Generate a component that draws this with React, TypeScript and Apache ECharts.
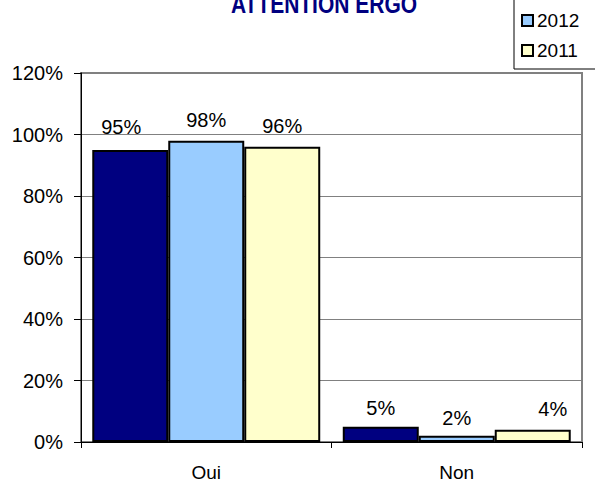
import React, { useEffect, useRef } from "react";
import * as echarts from "echarts";

const categories = ["Oui", "Non"];
const seriesNames = ["2013", "2012", "2011"];
const values2013 = [95, 5];
const values2012 = [98, 2];
const values2011 = [96, 4];
const yTicks = [0, 20, 40, 60, 80, 100, 120];

const colors = ["#000080", "#99CCFF", "#FFFFCC"];
const FONT = "'Liberation Sans', Arial, sans-serif";

export default function App() {
  const ref = useRef<HTMLDivElement>(null);
  useEffect(() => {
    if (!ref.current) return;
    const chart = echarts.init(ref.current, undefined, { renderer: "svg" });
    const allValues = [values2013, values2012, values2011];
    const labelOffsets: Record<string, [number, number]> = {
      "0-0": [-9, -2],
      "1-1": [0, 3],
      "2-1": [20, 0],
      "0-1": [0, 2],
    };
    chart.setOption({
      animation: false,
      backgroundColor: "#ffffff",
      textStyle: { fontFamily: FONT },
      graphic: [
        {
          type: "text",
          x: 324,
          y: 17,
          scaleY: 1.2,
          style: {
            text: "ATTENTION ERGO",
            fill: "#000080",
            font: `bold 21px ${FONT}`,
            align: "center",
            verticalAlign: "bottom",
          },
        },
      ],
      legend: {
        orient: "vertical",
        left: 514,
        top: -29,
        padding: [10, 30, 9, 7],
        itemWidth: 11,
        itemHeight: 11,
        itemGap: 11,
        borderColor: "#000000",
        borderWidth: 1,
        borderRadius: 0,
        backgroundColor: "#ffffff",
        itemStyle: { borderColor: "#000000", borderWidth: 2 },
        textStyle: { fontSize: 19, color: "#000000", fontFamily: FONT, padding: [0, 0, 0, -1] },
        data: seriesNames.map((n) => ({ name: n, icon: "rect" })),
        selectedMode: false,
      },
      grid: {
        left: 81,
        right: 13,
        top: 73,
        bottom: 44,
        show: true,
        borderColor: "#808080",
        borderWidth: 2,
      },
      xAxis: {
        type: "category",
        data: categories,
        axisLine: { lineStyle: { color: "#000000", width: 1 } },
        axisTick: { show: true, length: 6, lineStyle: { color: "#000000" } },
        axisLabel: { fontSize: 19, color: "#000000", margin: 21, fontFamily: FONT },
      },
      yAxis: {
        type: "value",
        min: yTicks[0],
        max: yTicks[yTicks.length - 1],
        interval: 20,
        axisLine: { show: true, lineStyle: { color: "#000000", width: 1 } },
        axisTick: { show: true, length: 7, lineStyle: { color: "#000000" } },
        axisLabel: {
          fontSize: 20,
          color: "#000000",
          margin: 18,
          fontFamily: FONT,
          formatter: (v: number) => `${v}%`,
        },
        splitLine: { show: true, lineStyle: { color: "#808080", width: 1 } },
      },
      series: seriesNames.map((name, si) => ({
        name,
        type: "bar",
        barGap: "0%",
        barCategoryGap: "9%",
        itemStyle: { color: colors[si], borderColor: "#000000", borderWidth: 2 },
        data: allValues[si].map((v, ci) => {
          const off = labelOffsets[`${si}-${ci}`];
          return off ? { value: v, label: { offset: off } } : { value: v };
        }),
        label: {
          show: true,
          position: "top",
          distance: 11,
          fontSize: 20,
          color: "#000000",
          fontFamily: FONT,
          formatter: (p: any) => `${p.value}%`,
        },
      })),
    });
    return () => chart.dispose();
  }, []);
  return (
    <div
      ref={ref}
      style={{ position: "fixed", left: 0, top: 0, width: 595, height: 486 }}
    />
  );
}
